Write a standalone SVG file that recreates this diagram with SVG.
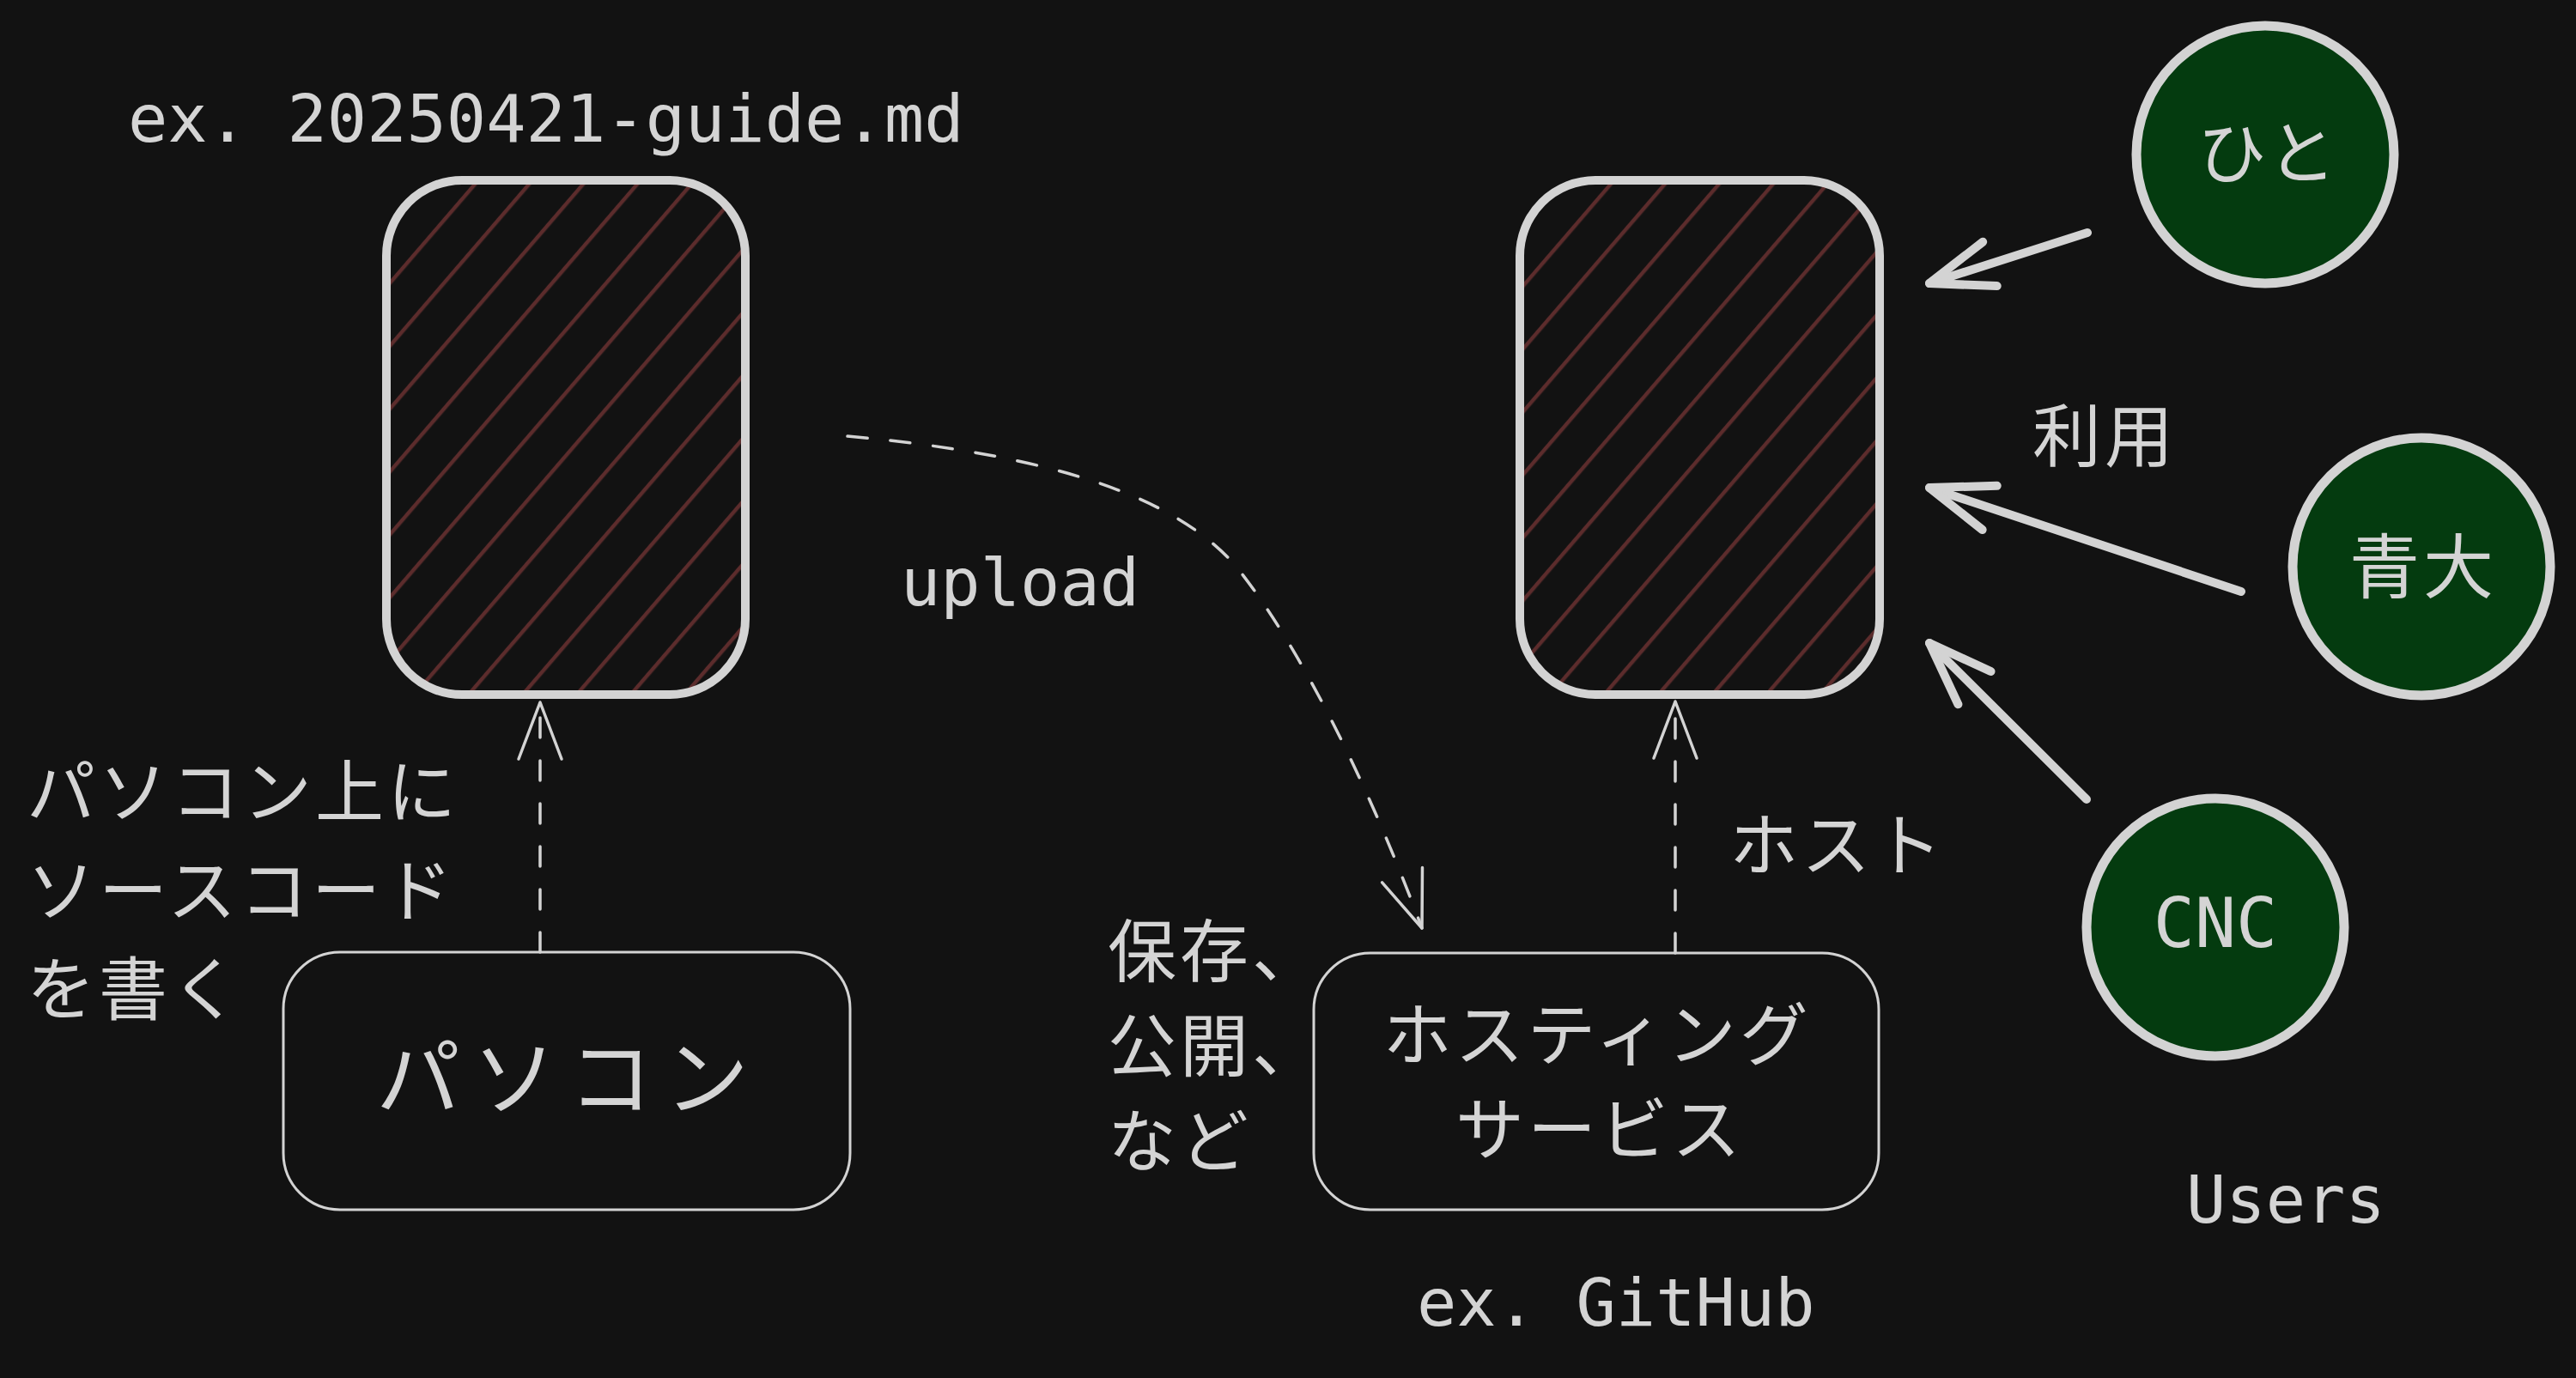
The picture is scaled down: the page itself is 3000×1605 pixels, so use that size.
<svg xmlns="http://www.w3.org/2000/svg" width="3000" height="1605" viewBox="0 0 3000 1605">
  <defs>
    <pattern id="hatch" patternUnits="userSpaceOnUse" width="20" height="47.75" patternTransform="rotate(-49.3)">
      <rect x="0" y="31.8" width="20" height="4.4" fill="#5c2c2c"/>
    </pattern>
    <marker id="headThin" markerUnits="userSpaceOnUse" viewBox="-90 -45 100 90" markerWidth="100" markerHeight="90" refX="0" refY="0" orient="auto" overflow="visible">
      <path d="M -66 -25 L 0 0 L -66 25" fill="none" stroke="#d3d3d3" stroke-width="3.5" stroke-linecap="round" stroke-linejoin="round"/>
    </marker>
    <marker id="headThick" markerUnits="userSpaceOnUse" viewBox="-90 -45 100 90" markerWidth="100" markerHeight="90" refX="0" refY="0" orient="auto" overflow="visible">
      <path d="M -74 -27 L 0 0 L -74 27" fill="none" stroke="#d3d3d3" stroke-width="10" stroke-linecap="round" stroke-linejoin="round"/>
    </marker>
  </defs>
  <style>
    .doc { fill: url(#hatch); stroke: #d3d3d3; stroke-width: 10; }
    .box { fill: none; stroke: #d3d3d3; stroke-width: 3; }
    .user { fill: #043b0f; stroke: #d3d3d3; stroke-width: 11; }
    .dash { fill: none; stroke: #d3d3d3; stroke-width: 3.5; stroke-linecap: round; stroke-dasharray: 23 27; marker-end: url(#headThin); }
    .solid { fill: none; stroke: #d3d3d3; stroke-width: 10; stroke-linecap: round; marker-end: url(#headThick); }
    .jp { font-family: "Noto Sans CJK JP", "Noto Sans", sans-serif; fill: #d4d4d4; font-size: 80px; letter-spacing: 4px; }
    .mono { font-family: "DejaVu Sans Mono", "Liberation Mono", monospace; fill: #d4d4d4; font-size: 77px; }
  </style>
  <rect x="0" y="0" width="3000" height="1605" fill="#121212"/>

  <g id="connectors">
    <path class="dash" d="M 629 1109 L 629 818"/>
    <path class="dash" d="M 987 508 C 1230 530, 1370 580, 1439 659 C 1520 760, 1600 930, 1656 1081"/>
    <path class="dash" d="M 1951 1110 L 1951 817"/>
    <path class="solid" d="M 2431 271 L 2247 330"/>
    <path class="solid" d="M 2610 689 L 2247 568"/>
    <path class="solid" d="M 2430 931 L 2247 749"/>
  </g>

  <g id="label-filename">
    <text class="mono" x="149" y="165">ex. 20250421-guide.md</text>
  </g>

  <g id="doc-local">
    <rect class="doc" x="450" y="210" width="418" height="599" rx="88" ry="88"/>
  </g>

  <g id="doc-hosted">
    <rect class="doc" x="1770" y="210" width="419" height="599" rx="88" ry="88"/>
  </g>

  <g id="pc">
    <rect class="box" x="330" y="1109" width="660" height="300" rx="66" ry="66"/>
    <text class="jp" x="662" y="1291" text-anchor="middle" style="font-size:98px; letter-spacing:14px">パソコン</text>
  </g>

  <g id="hosting">
    <rect class="box" x="1530" y="1110" width="658" height="299" rx="66" ry="66"/>
    <text class="jp" text-anchor="middle">
      <tspan x="1871" y="1234">ホスティング</tspan>
      <tspan x="1863" y="1344">サービス</tspan>
    </text>
  </g>

  <g id="label-write">
    <text class="jp">
      <tspan x="31" y="951">パソコン上に</tspan>
      <tspan x="31" y="1066">ソースコード</tspan>
      <tspan x="31" y="1181">を書く</tspan>
    </text>
  </g>

  <g id="label-upload">
    <text class="mono" x="1049" y="705">upload</text>
  </g>

  <g id="label-save">
    <text class="jp">
      <tspan x="1290" y="1137">保存、</tspan>
      <tspan x="1290" y="1247">公開、</tspan>
      <tspan x="1290" y="1358">など</tspan>
    </text>
  </g>

  <g id="label-host">
    <text class="jp" x="2014" y="1013">ホスト</text>
  </g>

  <g id="label-use">
    <text class="jp" x="2367" y="537">利用</text>
  </g>

  <g id="label-github">
    <text class="mono" x="1650" y="1544">ex. GitHub</text>
  </g>

  <g id="user-hito">
    <circle class="user" cx="2638" cy="180" r="150"/>
    <text class="jp" x="2642" y="207" text-anchor="middle">ひと</text>
  </g>

  <g id="user-aodai">
    <circle class="user" cx="2820" cy="660" r="150"/>
    <text class="jp" x="2822" y="690" text-anchor="middle" style="font-size:82px">青大</text>
  </g>

  <g id="user-cnc">
    <circle class="user" cx="2580" cy="1080" r="150"/>
    <text class="mono" x="2580" y="1103" text-anchor="middle" style="font-size:80px">CNC</text>
  </g>

  <g id="label-users">
    <text class="mono" x="2546" y="1424">Users</text>
  </g>
</svg>
